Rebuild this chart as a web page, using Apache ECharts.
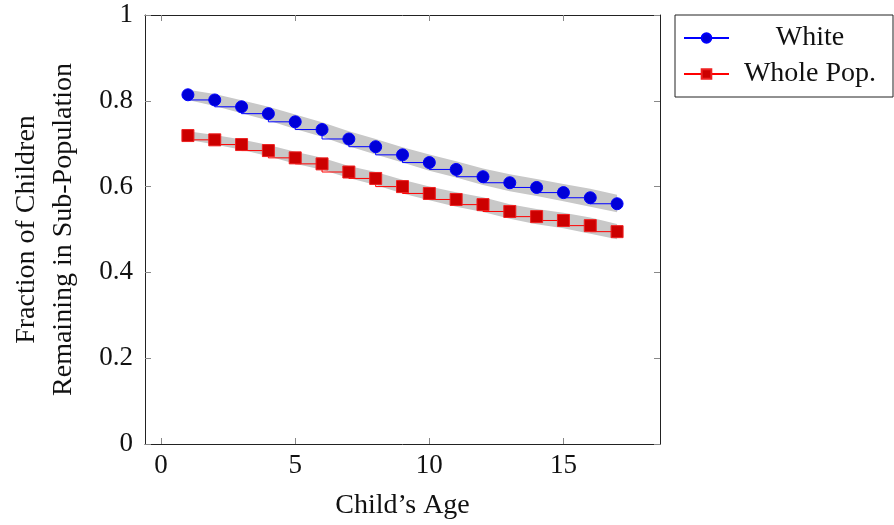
<!doctype html>
<html>
<head>
<meta charset="utf-8">
<title>Fraction of Children Remaining</title>
<script src="https://cdn.jsdelivr.net/npm/echarts@6/dist/echarts.min.js"></script>
<style>
html, body { margin: 0; padding: 0; background: #fff; }
#main { width: 894px; height: 525px; }
</style>
</head>
<body>
<div id="main"></div>
<script>
// child's age
var ages = [1, 2, 3, 4, 5, 6, 7, 8, 9, 10, 11, 12, 13, 14, 15, 16, 17];
// White sub-population
var white      = [0.814, 0.802, 0.786, 0.770, 0.751, 0.733, 0.711, 0.693, 0.674, 0.656, 0.640, 0.623, 0.609, 0.598, 0.586, 0.574, 0.560];
var whiteLower = [0.802, 0.788, 0.771, 0.754, 0.734, 0.716, 0.694, 0.675, 0.656, 0.637, 0.621, 0.604, 0.589, 0.578, 0.566, 0.553, 0.540];
var whiteUpper = [0.826, 0.816, 0.801, 0.786, 0.768, 0.750, 0.729, 0.711, 0.692, 0.675, 0.659, 0.642, 0.629, 0.618, 0.606, 0.595, 0.581];
// whole population
var whole      = [0.719, 0.709, 0.698, 0.684, 0.667, 0.653, 0.634, 0.619, 0.600, 0.584, 0.570, 0.558, 0.542, 0.530, 0.521, 0.509, 0.495];
var wholeLower = [0.709, 0.698, 0.686, 0.671, 0.653, 0.639, 0.620, 0.604, 0.584, 0.568, 0.553, 0.541, 0.525, 0.512, 0.503, 0.490, 0.477];
var wholeUpper = [0.729, 0.720, 0.710, 0.697, 0.681, 0.667, 0.648, 0.634, 0.616, 0.600, 0.587, 0.575, 0.559, 0.548, 0.539, 0.528, 0.513];
// tick labels
var xTicks = [0, 5, 10, 15];

var FONT = 'Liberation Serif';

function pairs(ys) {
	return ages.map(function (a, i) { return [a, ys[i]]; });
}

// gray confidence band, drawn as one polygon through the axes
function band(name, lower, upper) {
	return {
		name: name,
		type: 'custom',
		z: 1,
		silent: true,
		encode: { x: 0, y: [1, 2] },
		data: ages.map(function (a, i) { return [a, lower[i], upper[i]]; }),
		renderItem: function (params, api) {
			if (params.dataIndex !== 0) return;
			var pts = [];
			for (var i = 0; i < ages.length; i++) pts.push(api.coord([ages[i], upper[i]]));
			for (var j = ages.length - 1; j >= 0; j--) pts.push(api.coord([ages[j], lower[j]]));
			return { type: 'polygon', shape: { points: pts }, style: { fill: '#c8c8c8' } };
		}
	};
}

var chart = echarts.init(document.getElementById('main'));

var tickStyle = { show: true, inside: true, length: 6, lineStyle: { color: '#888', width: 1 } };
var lineStyleAxis = { show: true, onZero: false, lineStyle: { color: '#222', width: 1 } };

chart.setOption({
	animation: false,
	grid: { left: 143, right: 234, top: 15, bottom: 80 },
	legend: {
		data: ['White', 'Whole Pop.'],
		orient: 'vertical',
		left: 675,
		top: 15,
		padding: [9, 7, 9, 8],
		itemGap: 8,
		itemWidth: 45,
		itemHeight: 12,
		borderColor: '#222',
		borderWidth: 1,
		formatter: function (n) { return '{c|' + n + '}'; },
		textStyle: {
			fontFamily: FONT, fontSize: 28, color: '#111',
			rich: { c: { fontFamily: FONT, fontSize: 28, color: '#111', width: 152, align: 'center', lineHeight: 30 } }
		}
	},
	xAxis: [{
		type: 'value',
		min: -0.6,
		max: 18.6,
		position: 'bottom',
		name: 'Child’s Age',
		nameLocation: 'middle',
		nameGap: 48,
		nameTextStyle: { fontFamily: FONT, fontSize: 28, color: '#111' },
		axisLine: lineStyleAxis,
		axisTick: Object.assign({ customValues: xTicks }, tickStyle),
		axisLabel: { customValues: xTicks, fontFamily: FONT, fontSize: 27, color: '#111', margin: 8 },
		splitLine: { show: false }
	}, {
		type: 'value',
		min: -0.6,
		max: 18.6,
		position: 'top',
		axisLine: lineStyleAxis,
		axisTick: Object.assign({ customValues: xTicks }, tickStyle),
		axisLabel: { show: false },
		splitLine: { show: false }
	}],
	yAxis: [{
		type: 'value',
		min: 0,
		max: 1,
		interval: 0.2,
		position: 'left',
		name: 'Fraction of Children\nRemaining in Sub-Population',
		nameLocation: 'middle',
		nameGap: 63,
		nameTextStyle: { fontFamily: FONT, fontSize: 28, color: '#111', lineHeight: 37 },
		axisLine: lineStyleAxis,
		axisTick: tickStyle,
		axisLabel: { fontFamily: FONT, fontSize: 27, color: '#111', margin: 12 },
		splitLine: { show: false }
	}, {
		type: 'value',
		min: 0,
		max: 1,
		interval: 0.2,
		position: 'right',
		axisLine: lineStyleAxis,
		axisTick: tickStyle,
		axisLabel: { show: false },
		splitLine: { show: false }
	}],
	series: [
		band('White band', whiteLower, whiteUpper),
		band('Whole band', wholeLower, wholeUpper),
		{
			name: 'White',
			type: 'line',
			step: 'start',
			z: 3,
			data: pairs(white),
			symbol: 'circle',
			symbolSize: 12,
			lineStyle: { color: '#0000ff', width: 1 },
			itemStyle: { color: '#0000d8', borderColor: '#0000ff', borderWidth: 1 },
			emphasis: { disabled: true }
		},
		{
			name: 'Whole Pop.',
			type: 'line',
			step: 'start',
			z: 3,
			data: pairs(whole),
			symbol: 'rect',
			symbolSize: 12,
			lineStyle: { color: '#ff0000', width: 1 },
			itemStyle: { color: '#cc0000', borderColor: '#ee2020', borderWidth: 1 },
			emphasis: { disabled: true }
		}
	]
});
</script>
</body>
</html>
